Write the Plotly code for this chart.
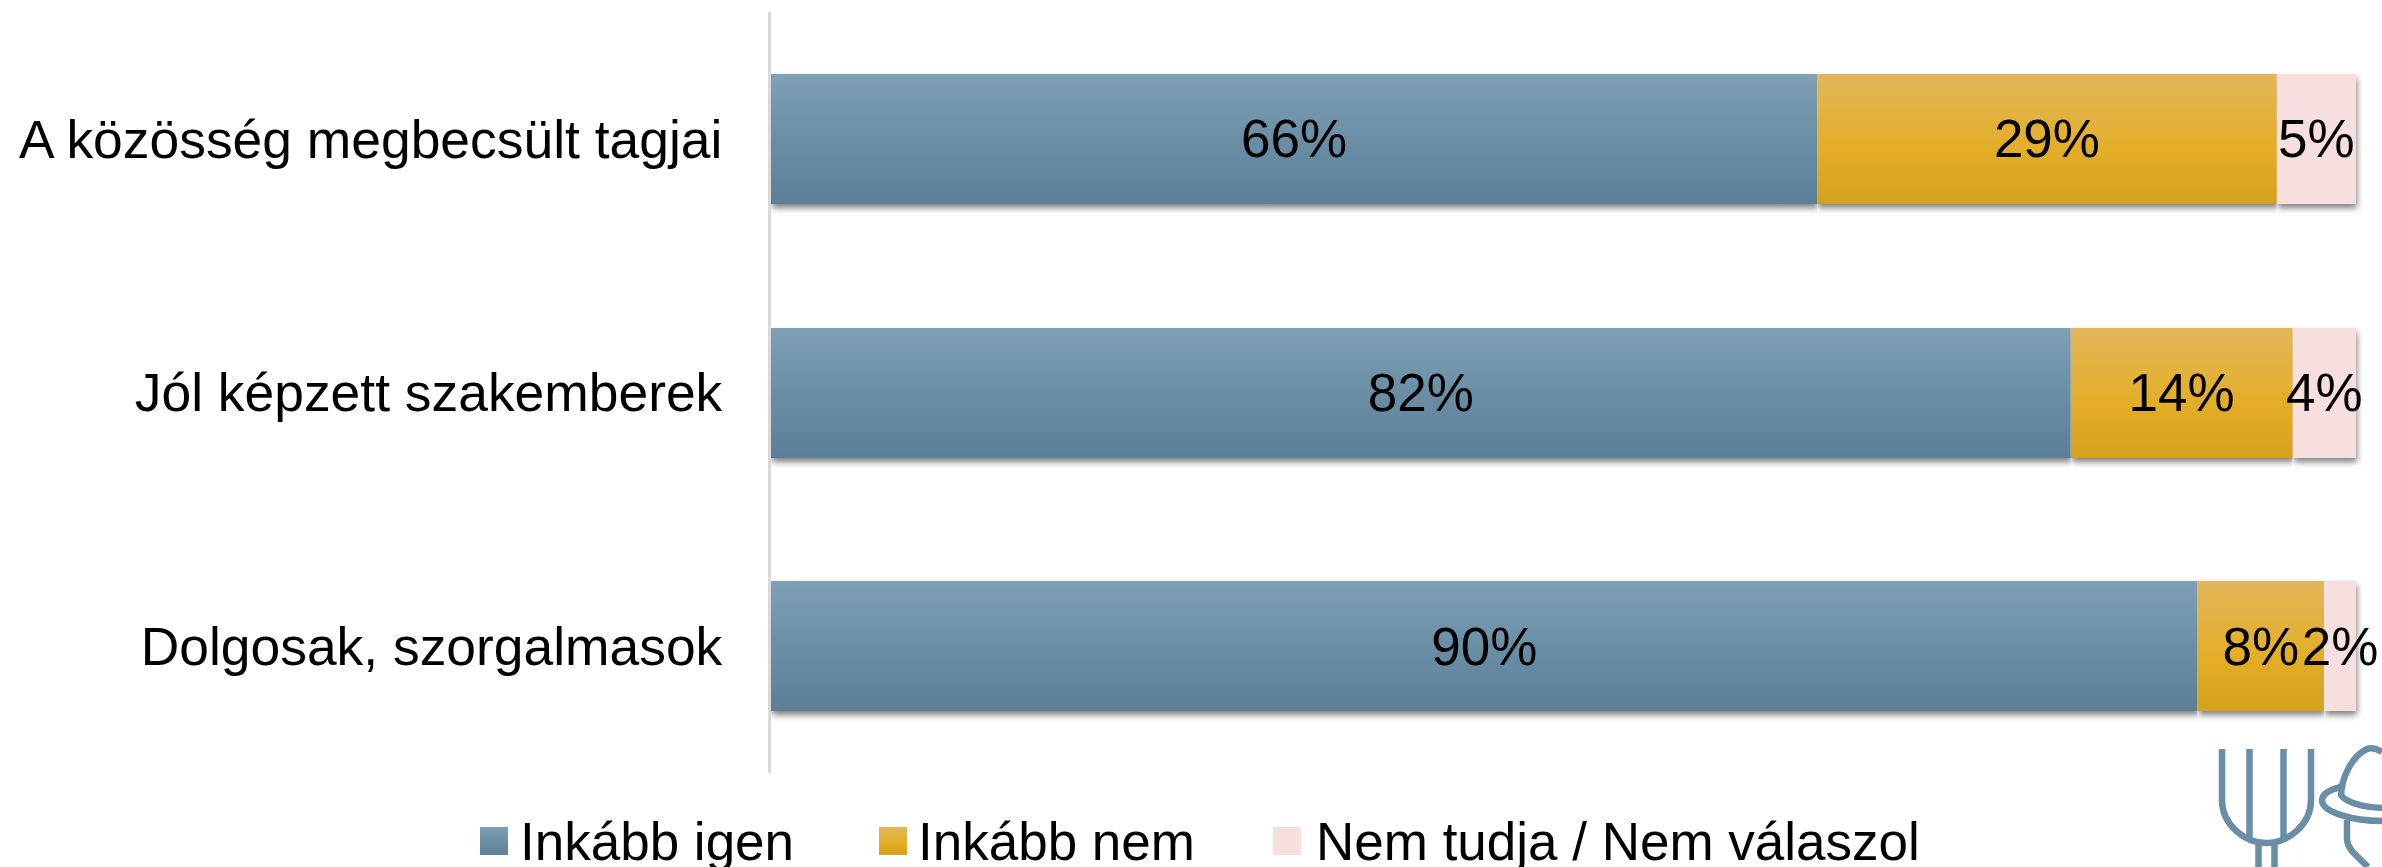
import plotly.graph_objects as go

categories = ["A közösség megbecsült tagjai", "Jól képzett szakemberek", "Dolgosak, szorgalmasok"]
series_names = ["Inkább igen", "Inkább nem", "Nem tudja / Nem válaszol"]
igen = [66, 82, 90]
nem = [29, 14, 8]
nt_nv = [5, 4, 2]
colors = ["#6a8fa5", "#e3ae28", "#f7dfe0"]

W, H = 2382, 867
L, R, T, B = 771, 26, 12, 94
FS = 53


def px(x):
    return (x - L) / (W - L - R)


def py(y):
    return 1 - (y - T) / (H - T - B)


fig = go.Figure()
for name, vals, col in zip(series_names, [igen, nem, nt_nv], colors):
    fig.add_trace(go.Bar(
        y=categories, x=vals, name=name, orientation="h",
        marker=dict(color=col, line=dict(width=0)),
        text=[f"{v}%" for v in vals], textposition="inside",
        insidetextanchor="middle", textangle=0, constraintext="none",
        insidetextfont=dict(color="#000000", size=FS, family="Liberation Sans"),
        cliponaxis=False,
    ))

logo = [
    "M 2222 749 L 2222 800 C 2222 825 2245 843 2266 843 C 2288 843 2311 825 2311 800 L 2311 749",
    "M 2249.5 749 L 2249.5 838",
    "M 2283.5 749 L 2283.5 838",
    "M 2258.5 843 L 2258.5 867",
    "M 2274.5 843 L 2274.5 867",
    "M 2341 797 C 2341 778 2352 756 2367 749 C 2372 747 2377 749 2382 752",
    "M 2341 787 C 2328 790 2322 795 2322 801 C 2323 812 2352 821 2382 821",
    "M 2341 795 C 2345 802 2362 807 2382 808",
    "M 2347 820 L 2347 840 C 2348 850 2358 857 2368 867",
]
shapes = []
for seg in logo:
    toks = seg.split()
    out, i = [], 0
    while i < len(toks):
        t = toks[i]
        n = {"M": 1, "L": 1, "C": 3}[t]
        pts = [f"{px(float(toks[i + 1 + 2 * k])):.5f},{py(float(toks[i + 2 + 2 * k])):.5f}" for k in range(n)]
        out.append(t + " ".join(pts))
        i += 1 + 2 * n
    shapes.append(dict(type="path", xref="paper", yref="paper", path=" ".join(out),
                       line=dict(color="#6a8fa5", width=6.5), layer="above"))

fig.update_layout(
    width=W, height=H, barmode="stack", bargap=0.4875,
    paper_bgcolor="#ffffff", plot_bgcolor="#ffffff",
    margin=dict(l=L, r=R, t=T, b=B, autoexpand=False),
    font=dict(family="Liberation Sans", color="#000000", size=FS),
    xaxis=dict(range=[0, 100], visible=False, fixedrange=True),
    yaxis=dict(autorange="reversed", showline=True, linecolor="#d9d9d9", linewidth=3,
               ticks="", ticklabelstandoff=35, showgrid=False, automargin=False,
               tickfont=dict(size=53.4, family="Liberation Sans", color="#000000")),
    legend=dict(orientation="h", x=px(480), y=py(798), xanchor="left", yanchor="top",
                traceorder="normal",
                font=dict(size=FS, family="Liberation Sans", color="#000000"),
                bgcolor="rgba(0,0,0,0)"),
    shapes=shapes, showlegend=True,
)

post = r"""
document.body.style.margin = '0';
var gd = document.querySelector('.js-plotly-plot');
var NS = 'http://www.w3.org/2000/svg';
var stops = [
  [['0','#80a0b4'],['0.5','#6a8fa5'],['1','#5a7f97']],
  [['0','#e2b65a'],['0.6','#e3ae26'],['1','#d5a01c']],
  [['0','#f7dfe0'],['1','#f7dfe0']]
];
var itemX = [0, 398, 796];
var iconDx = [-6, -5, -9];
var clipRight = ['0', '0', '-8px'];
function paint(){
  var svg = gd.querySelector('svg.main-svg');
  if (!svg.querySelector('#grad0')) {
    var defs = document.createElementNS(NS, 'defs');
    stops.forEach(function(s, i){
      var g = document.createElementNS(NS, 'linearGradient');
      g.setAttribute('id', 'grad' + i);
      g.setAttribute('x1','0'); g.setAttribute('y1','0'); g.setAttribute('x2','0'); g.setAttribute('y2','1');
      s.forEach(function(st){
        var e = document.createElementNS(NS, 'stop');
        e.setAttribute('offset', st[0]); e.setAttribute('stop-color', st[1]);
        g.appendChild(e);
      });
      defs.appendChild(g);
    });
    svg.insertBefore(defs, svg.firstChild);
  }
  gd.querySelectorAll('.barlayer .trace').forEach(function(t, i){
    t.querySelectorAll('.point path').forEach(function(p){
      p.style.fill = 'url(#grad' + i + ')';
      p.style.filter = 'drop-shadow(1px 4px 3px rgba(0,0,0,0.5))';
      p.style.clipPath = 'inset(-3px ' + clipRight[i] + ' -14px 0)';
    });
  });
  gd.querySelectorAll('.legend .traces').forEach(function(t, i){
    var m = /translate\(([^,]+),\s*([^)]+)\)/.exec(t.getAttribute('transform') || '');
    var y = m ? m[2] : 0;
    t.setAttribute('transform', 'translate(' + itemX[i] + ',' + y + ')');
    t.querySelectorAll('path').forEach(function(p){
      var a = 14 + iconDx[i], b = -14 + iconDx[i];
      p.setAttribute('d', 'M' + a + ',16H' + b + 'V-12H' + a + 'Z');
      p.style.fill = 'url(#grad' + i + ')';
      p.style.strokeWidth = '0';
    });
  });
  gd.querySelectorAll('.legend .scrollbox').forEach(function(s){ s.removeAttribute('clip-path'); s.style.clipPath = 'none'; });
  gd.querySelectorAll('.legend').forEach(function(s){ s.style.overflow = 'visible'; });
}
paint();
setTimeout(paint, 50);
setTimeout(paint, 300);
gd.on('plotly_afterplot', paint);
"""
fig.write_html("out.html", post_script=post, config={"displayModeBar": False})
